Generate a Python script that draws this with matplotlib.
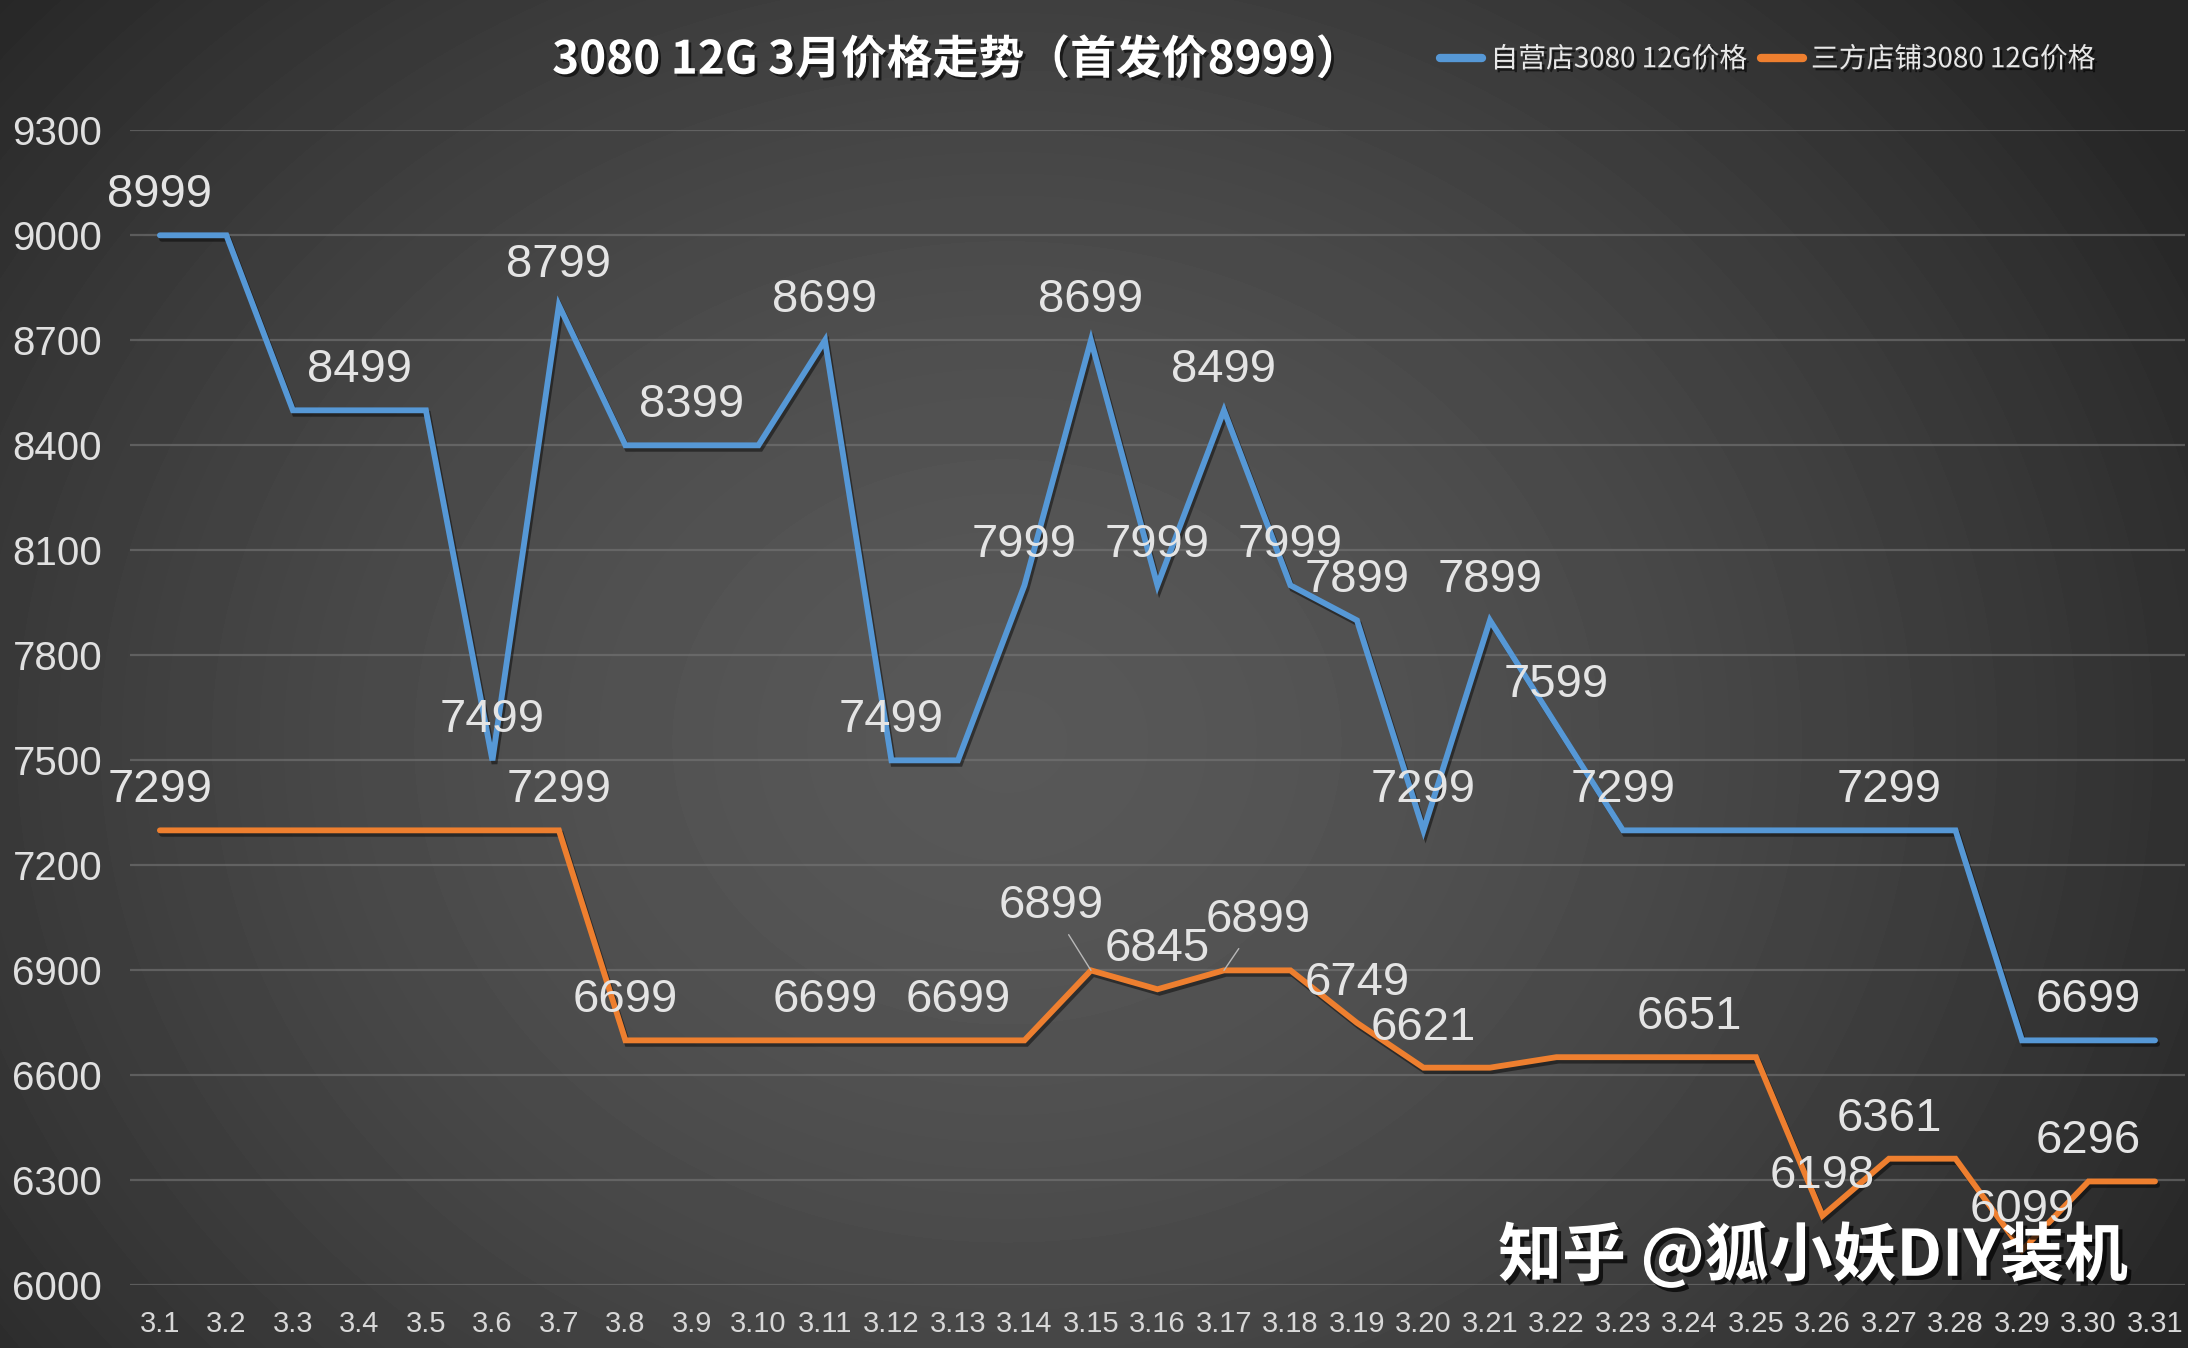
import numpy as np
import matplotlib
matplotlib.use("Agg")
import matplotlib.pyplot as plt
from matplotlib import patheffects as pe
from matplotlib.lines import Line2D

plt.rcParams['font.family'] = ['Noto Sans CJK SC', 'DejaVu Sans']

days = [f"3.{d}" for d in range(1, 32)]
ziying = [8999, 8999, 8499, 8499, 8499, 7499, 8799, 8399, 8399, 8399,
          8699, 7499, 7499, 7999, 8699, 7999, 8499, 7999, 7899, 7299,
          7899, 7599, 7299, 7299, 7299, 7299, 7299, 7299, 6699, 6699, 6699]
sanfang = [7299, 7299, 7299, 7299, 7299, 7299, 7299, 6699, 6699, 6699,
           6699, 6699, 6699, 6699, 6899, 6845, 6899, 6899, 6749, 6621,
           6621, 6651, 6651, 6651, 6651, 6198, 6361, 6361, 6099, 6296, 6296]
# which points carry a value label (day index)
ziying_labeled = [0, 3, 5, 6, 8, 10, 11, 13, 14, 15, 16, 17, 18, 19, 20, 21, 22, 26, 29]
sanfang_labeled = [0, 6, 7, 10, 12, 14, 15, 16, 18, 19, 23, 25, 26, 28, 29]
# labels pulled aside with a leader line: index -> (dx, dy) in pixels
sanfang_leader = {14: (-40, 64), 16: (34, 50)}

yticks = list(range(6000, 9301, 300))
BLUE = "#5698d6"
ORANGE = "#ee7f2f"
LABEL = "#e4e4e4"

W, H = 2188, 1348
fig = plt.figure(figsize=(W / 100, H / 100), dpi=100)

# radial grey background
bg = fig.add_axes([0, 0, 1, 1], zorder=-10)
yy, xx = np.mgrid[0:H, 0:W]
d = np.sqrt(((xx - 0.46 * W) / (0.62 * W)) ** 2 + ((yy - 0.55 * H) / (0.85 * H)) ** 2)
shade = 88 - 50 * np.clip(d, 0, 1) ** 1.6
bg.imshow(shade, cmap="gray", vmin=0, vmax=255, aspect="auto", interpolation="bilinear")
bg.axis("off")

ax = fig.add_axes([0.0594, 0.0467, 0.9392, 0.8569])
ax.patch.set_alpha(0)
x = np.arange(len(days))

shadow = [pe.SimpleLineShadow(offset=(1.5, -2.5), shadow_color="black", alpha=0.45), pe.Normal()]
ax.plot(x, ziying, color=BLUE, lw=4.2, solid_capstyle="round", solid_joinstyle="miter",
        path_effects=shadow, zorder=3)
ax.plot(x, sanfang, color=ORANGE, lw=4.2, solid_capstyle="round", solid_joinstyle="miter",
        path_effects=shadow, zorder=3)

lab_kw = dict(textcoords="offset pixels", ha="center", va="center", color=LABEL,
              fontsize=34, family="Liberation Sans", zorder=5)
for i in ziying_labeled:
    ax.annotate(str(ziying[i]), (x[i], ziying[i]), xytext=(0, 40), **lab_kw)
for i in sanfang_labeled:
    if i in sanfang_leader:
        dx, dy = sanfang_leader[i]
        ax.annotate(str(sanfang[i]), (x[i], sanfang[i]), xytext=(dx, dy),
                    arrowprops=dict(arrowstyle="-", color="#b8b8b8", lw=1, shrinkA=3, shrinkB=0),
                    **lab_kw)
    else:
        ax.annotate(str(sanfang[i]), (x[i], sanfang[i]), xytext=(0, 40), **lab_kw)

ax.set_xlim(-0.45, len(days) - 0.55)
ax.set_ylim(6000, 9300)
ax.set_yticks(yticks)
ax.set_xticks(x)
ax.set_xticklabels(days)
ax.grid(axis="y", color="#777777", lw=1.6, alpha=0.6)
ax.set_axisbelow(True)
for s in ax.spines.values():
    s.set_visible(False)
ax.tick_params(length=0)
ax.tick_params(axis="y", pad=20, labelsize=29, labelcolor="#e0e0e0")
ax.tick_params(axis="x", pad=18, labelsize=21, labelcolor="#d8d8d8")
for t in ax.get_yticklabels() + ax.get_xticklabels():
    t.set_family("Liberation Sans")

txt_shadow = [pe.SimplePatchShadow(offset=(2, -2), shadow_rgbFace="black", alpha=0.6), pe.Normal()]
fig.text(0.4375, 0.955, "3080 12G 3月价格走势（首发价8999）", ha="center", va="center",
         fontsize=33, fontweight="bold", color="white", path_effects=txt_shadow)

handles = [Line2D([], [], color=BLUE, lw=6, solid_capstyle="round"),
           Line2D([], [], color=ORANGE, lw=6, solid_capstyle="round")]
leg = fig.legend(handles, ["自营店3080 12G价格", "三方店铺3080 12G价格"], loc="center",
                 bbox_to_anchor=(0.808, 0.956), ncol=2, frameon=False, fontsize=20,
                 handlelength=1.5, handletextpad=0.3, columnspacing=0.5)
for t in leg.get_texts():
    t.set_color("#e8e8e8")
    t.set_path_effects(txt_shadow)

fig.text(0.9726, 0.068, "知乎 @狐小妖DIY装机", ha="right", va="center", fontsize=46,
         fontweight="bold", color="white",
         path_effects=[pe.SimplePatchShadow(offset=(3, -3), shadow_rgbFace="black", alpha=0.7), pe.Normal()])

fig.savefig("out.png", dpi=100)
